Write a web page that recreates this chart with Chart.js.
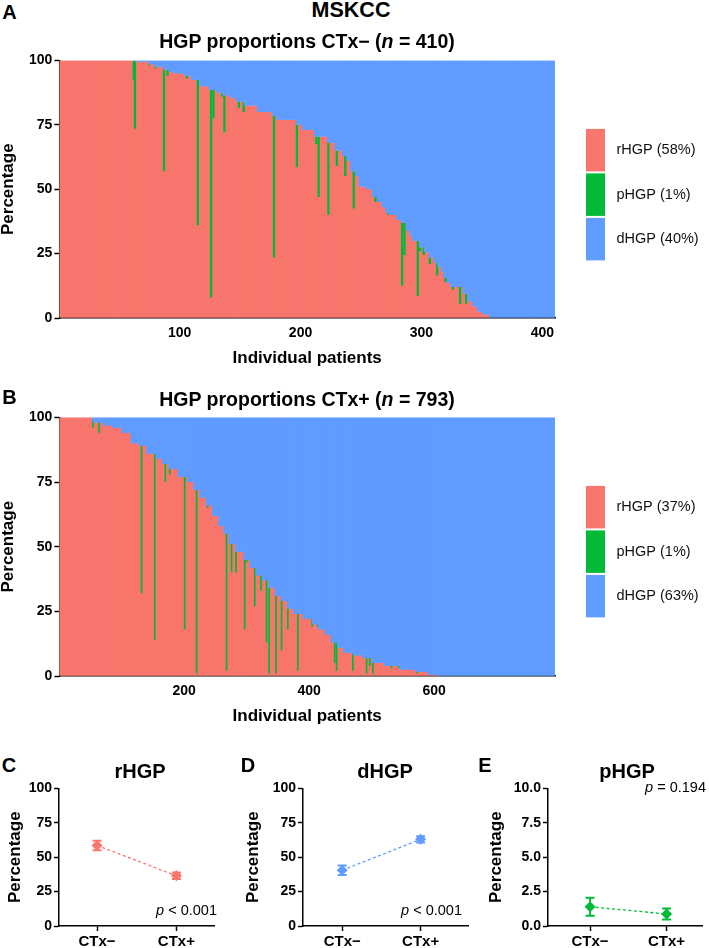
<!DOCTYPE html>
<html>
<head>
<meta charset="utf-8">
<title>MSKCC HGP proportions</title>
<script src="https://cdn.jsdelivr.net/npm/chart.js@4.4.1/dist/chart.umd.min.js"></script>
<style>
body { margin: 0; background: #fff; }
#page { position: relative; width: 709px; height: 948px; overflow: hidden; font-family: 'Liberation Sans', Arial, sans-serif; color: #000; }
#page canvas { position: absolute; }
.txt { position: absolute; white-space: nowrap; line-height: 1; transform: translate(-50%, -50%); }
.letter { font-weight: bold; font-size: 20px; }
.head { font-weight: bold; font-size: 19.5px; }
.sub { font-weight: bold; font-size: 20px; }
.pval { font-size: 14.5px; transform: translate(-100%, -50%); }
</style>
</head>
<body>
<div id="page">
  <canvas id="chartA" width="709" height="320" style="left:0;top:50px"></canvas>
  <canvas id="chartB" width="709" height="321" style="left:0;top:407px"></canvas>
  <canvas id="chartC" width="220" height="170" style="left:0;top:778px"></canvas>
  <canvas id="chartD" width="234" height="170" style="left:240px;top:778px"></canvas>
  <canvas id="chartE" width="223" height="170" style="left:485px;top:778px"></canvas>

  <div class="txt letter" style="left:9.5px;top:12px">A</div>
  <div class="txt" style="left:351px;top:11px;font-weight:bold;font-size:21.5px">MSKCC</div>
  <div class="txt head" style="left:307px;top:41.5px">HGP proportions CTx− (<i>n</i> = 410)</div>

  <div class="txt letter" style="left:9.5px;top:397px">B</div>
  <div class="txt head" style="left:307px;top:400px">HGP proportions CTx+ (<i>n</i> = 793)</div>

  <div class="txt letter" style="left:9px;top:765px">C</div>
  <div class="txt sub" style="left:140px;top:770.5px">rHGP</div>
  <div class="txt pval" style="left:217px;top:910px"><i>p</i> &lt; 0.001</div>

  <div class="txt letter" style="left:248px;top:765px">D</div>
  <div class="txt sub" style="left:385px;top:770.5px">dHGP</div>
  <div class="txt pval" style="left:462px;top:910px"><i>p</i> &lt; 0.001</div>

  <div class="txt letter" style="left:485px;top:765px">E</div>
  <div class="txt sub" style="left:627px;top:770.5px">pHGP</div>
  <div class="txt pval" style="left:706px;top:787px"><i>p</i> = 0.194</div>
</div>
<script>
// ---- data ----
const colours = ['#F8766D', '#00BA38', '#619CFF'];   // rHGP, pHGP, dHGP

// rHGP per patient, sorted, read as steps: [percent, number of patients]
const rhgpStepsA = [
  [100,63],[99.5,11],[98.5,5],[97.5,7],[96.5,5],[95.5,3],[95,9],[94,6],[92.5,7],[90,8],
  [88.5,6],[87.5,5],[86.5,6],[85.5,5],[84,7],[82.5,11],[80,12],[78.5,4],[77,16],[75,5],
  [73,10],[70.5,11],[68,6],[65,6],[63,4],[61,3],[57,4],[55,3],[51,6],[50,5],
  [47,4],[45,4],[43,3],[41,3],[40,6],[38,4],[37,4],[34,3],[32,2],[30,6],
  [27.5,4],[25.5,4],[23.5,4],[21.5,3],[20,3],[18,2],[15.5,3],[13.5,3],[12,10],[9.5,4],
  [6.5,4],[4.5,4],[2.5,4],[1.4,6],[0,54]
];
// patients with some pHGP: [patient, rHGP, pHGP]
const phgpPatientsA = [
  [62,92.5,7.5],[63,73.5,26.5],[75,98,0.5],[80,97,0.5],[87,57,39.5],[90,94,2.5],[106,93,1],[115,36,56.5],
  [126,8,80.5],[128,77.5,11],[135,86,1.5],[137,72,14.5],[149,81.5,2.5],[153,80,4],[178,23.5,55],[197,58.5,16.5],
  [213,67.5,3],[215,47,23.5],[223,40,28],[230,59,6],[237,55,8],[244,42.5,14.5],[262,45,2],[273,40,1],
  [284,12.5,24.5],[286,24.5,12.5],[297,8.5,21.5],[299,26,1.5],[302,24.5,3],[307,21,2.5],[313,16.5,5],
  [320,14,1.5],[326,11,1],[332,5.5,6.5],[337,5.5,4]
];
const legendA = ['rHGP (58%)', 'pHGP (1%)', 'dHGP (40%)'];
const tickLabelsA = [100, 200, 300, 400];

const rhgpStepsB = [
  [100,54],[98,16],[97,15],[96,15],[94,15],[90,13],[89,12],[86,15],[84,10],[82,10],
  [80,15],[77,15],[75,10],[72,10],[69,10],[66,10],[62,10],[58,8],[55,9],[51,10],
  [48,13],[45,10],[42,10],[39,10],[37,10],[34,10],[31,10],[29,10],[26,10],[24,15],
  [22,15],[20,10],[18,10],[16,10],[13,10],[11,10],[9,15],[8,15],[7,15],[5,20],
  [4,25],[2.5,25],[1.5,20],[0.5,15],[0,188]
];
const phgpPatientsB = [
  [54,96,3],[64,94,4],[132,32,57],[153,14,72],[170,75,7],[177,78,2],[201,18,59],[220,1,71],
  [238,65,1],[268,2,53],[276,40,11],[283,40,8],[297,18,27],[300,44,1],[313,27,15],[323,33,6],
  [332,13,24],[336,1,33],[347,1,30],[356,10,19],[366,18,8],[382,2,22],[405,19,3],[414,19,1],
  [441,5,8],[444,2,11],[470,2,7],[492,1,6],[497,4,3],[502,1,4],[532,3,1],[543,3,1],[572,1,0.5]
];
const legendB = ['rHGP (37%)', 'pHGP (1%)', 'dHGP (63%)'];
const tickLabelsB = [200, 400, 600];

const pctTicks = [0, 25, 50, 75, 100];

const groups = ['CTx−', 'CTx+'];
const rMeans = [58.5, 36.5];
const rCI = [3.4, 2.4];
const dMeans = [40.5, 63];
const dCI = [3.5, 2.3];
const pMeans = [1.4, 0.87];
const pCI = [0.65, 0.4];
const pTicks = [0, 2.5, 5, 7.5, 10];

Chart.defaults.font.family = "'Liberation Sans', Arial, sans-serif";
Chart.defaults.color = '#000';

// expand the steps into one row per patient
function patients(steps, spikes) {
  const r = [];
  steps.forEach(s => { for (let k = 0; k < s[1]; k++) r.push(s[0]); });
  const p = r.map(() => 0);
  spikes.forEach(s => { r[s[0] - 1] = s[1]; p[s[0] - 1] = s[2]; });
  const d = r.map((v, i) => 100 - v - p[i]);
  const nz = a => a.map(v => v > 0 ? v : null);
  return { ids: r.map((v, i) => i + 1), r: nz(r), p: nz(p), d: nz(d) };
}

// draw the stacked datasets bottom-up (rHGP, pHGP, dHGP) so green slivers stay on top of red
const drawOrder = {
  id: 'drawOrder',
  beforeDatasetsDraw(chart) {
    const a = chart.chartArea, ctx = chart.ctx;
    ctx.save();
    ctx.beginPath();
    ctx.rect(a.left, a.top, a.right - a.left, a.bottom - a.top);
    ctx.clip();
    chart.data.datasets.forEach((ds, i) => chart.getDatasetMeta(i).controller.draw());
    ctx.restore();
    return false;
  }
};

// tall legend boxes to the right of the plot
const sideLegend = {
  id: 'sideLegend',
  afterDraw(chart, args, opts) {
    if (!opts.top) return;
    const ctx = chart.ctx, a = chart.chartArea;
    let y = a.top + opts.top;
    ctx.save();
    chart.data.datasets.forEach(ds => {
      ctx.fillStyle = ds.backgroundColor;
      ctx.fillRect(a.right + 31, y, 19, 42.5);
      ctx.fillStyle = '#111';
      ctx.font = "14.5px 'Liberation Sans', Arial, sans-serif";
      ctx.textBaseline = 'middle';
      ctx.fillText(ds.label, a.right + 61.5, y + 21.5);
      y += 44.5;
    });
    ctx.restore();
  }
};

// 95% CI bars under the mean markers
const errorBars = {
  id: 'errorBars',
  beforeDatasetsDraw(chart) {
    const ctx = chart.ctx, xs = chart.scales.x, ys = chart.scales.y;
    chart.data.datasets.forEach(ds => {
      if (!ds.errors) return;
      ctx.save();
      ctx.strokeStyle = ds.borderColor;
      ctx.lineWidth = 2;
      ds.data.forEach((pt, i) => {
        const x = xs.getPixelForValue(pt.x);
        const top = ys.getPixelForValue(pt.y + ds.errors[i]);
        const bot = ys.getPixelForValue(pt.y - ds.errors[i]);
        ctx.beginPath();
        ctx.moveTo(x, top); ctx.lineTo(x, bot);
        ctx.moveTo(x - 4.5, top); ctx.lineTo(x + 4.5, top);
        ctx.moveTo(x - 4.5, bot); ctx.lineTo(x + 4.5, bot);
        ctx.stroke();
      });
      ctx.restore();
    });
  }
};

const axisGrid = { drawOnChartArea: false, tickLength: 5, tickWidth: 1.5, color: '#000' };
const axisBorder = { color: '#000', width: 1.5 };
const tickFont = { weight: 'bold', size: 14 };

// bars a bit wider than their slot (by 1px) so neighbouring bars leave no pale seams
function stackChart(id, steps, spikes, legend, tickLabels, barWidth) {
  const pt = patients(steps, spikes);
  const bar = (label, data, colour) => ({
    label: label, data: data, backgroundColor: colour,
    barThickness: barWidth, borderWidth: 0, inflateAmount: 0
  });
  return new Chart(document.getElementById(id), {
    type: 'bar',
    data: {
      labels: pt.ids,
      datasets: [
        bar(legend[0], pt.r, colours[0]),
        bar(legend[1], pt.p, colours[1]),
        bar(legend[2], pt.d, colours[2])
      ]
    },
    options: {
      responsive: false,
      animation: false,
      layout: { padding: { top: 10, right: 154, bottom: 0, left: 0 } },
      plugins: { legend: { display: false }, tooltip: { enabled: false }, sideLegend: { top: 68.5 } },
      scales: {
        x: {
          stacked: true, z: 1,
          grid: Object.assign({}, axisGrid, {
            offset: false,
            color: c => tickLabels.includes(c.index + 1) ? '#000' : 'rgba(0,0,0,0)'
          }),
          border: axisBorder,
          ticks: {
            autoSkip: false, maxRotation: 0, minRotation: 0, padding: 2, font: tickFont,
            callback: (v, i) => tickLabels.includes(i + 1) ? String(i + 1) : null
          },
          title: { display: true, text: 'Individual patients', font: { weight: 'bold', size: 17, lineHeight: 1 }, padding: { top: 0, bottom: 3.5 } },
          afterFit: s => { s.height = 52; }
        },
        y: {
          stacked: true, min: 0, max: 100, z: 1,
          grid: axisGrid, border: axisBorder,
          afterBuildTicks: s => { s.ticks = pctTicks.map(v => ({ value: v })); },
          ticks: { padding: 2, font: tickFont },
          title: { display: true, text: 'Percentage', font: { weight: 'bold', size: 17, lineHeight: 1 }, padding: { top: 0, bottom: 0 } },
          afterFit: s => { s.width = 59.4; }
        }
      }
    },
    plugins: [drawOrder, sideLegend]
  });
}

function meanChart(id, means, ci, colour, yTicks, decimals, xRange, yWidth, titlePad) {
  return new Chart(document.getElementById(id), {
    type: 'line',
    data: {
      datasets: [{
        data: means.map((m, i) => ({ x: i + 1, y: m })),
        errors: ci,
        borderColor: colour, backgroundColor: colour,
        borderWidth: 1.3, borderDash: [3, 2.5],
        pointStyle: 'rectRot', pointRadius: 5.5, pointBorderWidth: 0
      }]
    },
    options: {
      responsive: false,
      animation: false,
      layout: { padding: { top: 10, right: 2, bottom: 0, left: 0 } },
      plugins: { legend: { display: false }, tooltip: { enabled: false } },
      scales: {
        x: {
          type: 'linear', min: xRange[0], max: xRange[1], z: 1,
          grid: axisGrid, border: axisBorder,
          afterBuildTicks: s => { s.ticks = groups.map((g, i) => ({ value: i + 1 })); },
          ticks: { padding: 2, font: { weight: 'bold', size: 15 }, callback: v => groups[v - 1] },
          afterFit: s => { s.height = 22; }
        },
        y: {
          min: yTicks[0], max: yTicks[yTicks.length - 1], z: 1,
          grid: axisGrid, border: axisBorder,
          afterBuildTicks: s => { s.ticks = yTicks.map(v => ({ value: v })); },
          ticks: { padding: 2, font: tickFont, callback: v => v.toFixed(decimals) },
          title: { display: true, text: 'Percentage', font: { weight: 'bold', size: 17, lineHeight: 1 }, padding: { top: titlePad, bottom: 0 } },
          afterFit: s => { s.width = yWidth; }
        }
      }
    },
    plugins: [errorBars]
  });
}

stackChart('chartA', rhgpStepsA, phgpPatientsA, legendA, tickLabelsA, 2.3);
stackChart('chartB', rhgpStepsB, phgpPatientsB, legendB, tickLabelsB, 1.7);
meanChart('chartC', rMeans, rCI, colours[0], pctTicks, 0, [0.52, 2.48], 59, 6.5);
meanChart('chartD', dMeans, dCI, colours[2], pctTicks, 0, [0.5, 2.61], 63, 4.5);
meanChart('chartE', pMeans, pCI, colours[1], pTicks, 1, [0.45, 2.47], 63, 2.5);
</script>
</body>
</html>
